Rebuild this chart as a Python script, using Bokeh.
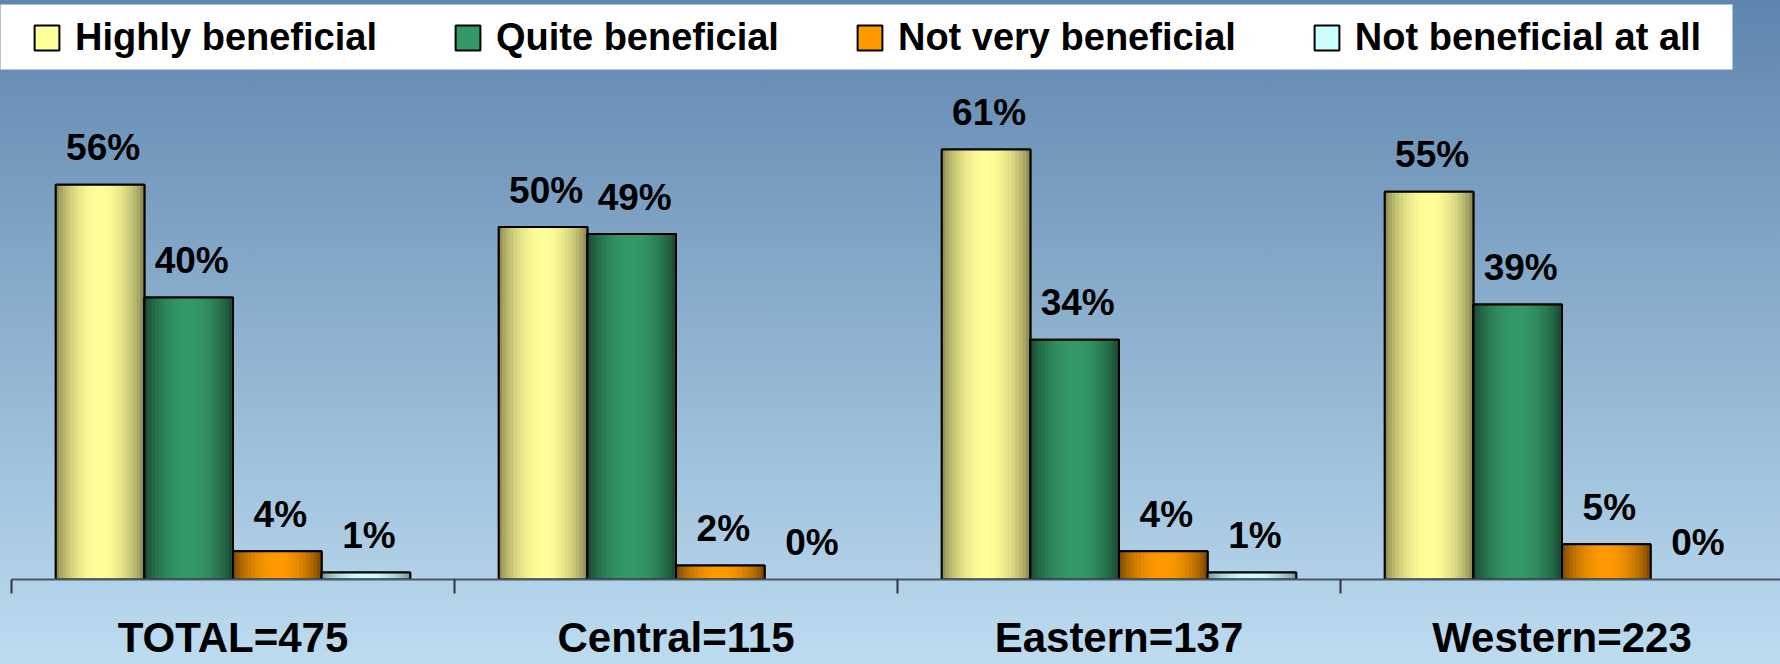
import math
from bokeh.plotting import figure
from bokeh.models import (ColumnDataSource, Range1d, FixedTicker, LinearAxis,
                          Legend, LegendItem, BoxAnnotation)
from bokeh.core.properties import value
from bokeh.embed import file_html
from bokeh.resources import INLINE

# ---------------- data ----------------
categories = ["TOTAL=475", "Central=115", "Eastern=137", "Western=223"]
series_names = ["Highly beneficial", "Quite beneficial",
                "Not very beneficial", "Not beneficial at all"]
highly_beneficial = [56, 50, 61, 55]
quite_beneficial = [40, 49, 34, 39]
not_very_beneficial = [4, 2, 4, 5]
not_beneficial_at_all = [1, 0, 1, 0]
series_values = [highly_beneficial, quite_beneficial,
                 not_very_beneficial, not_beneficial_at_all]

# ---------------- style ----------------
center_colors = [(255, 255, 153), (51, 153, 102), (255, 153, 0), (204, 255, 255)]
edge_colors = [(128, 124, 72), (24, 64, 44), (110, 64, 0), (110, 140, 140)]
W, H = 1780, 664
X0_PX, CAT_PX = 11, 443          # pixel of first category boundary, pixels per category
BASE_PX, PCT_PX = 579, 7.05      # pixel of the value axis zero, pixels per percent
BAR_W = 0.2
OFFSETS = [-0.3, -0.1, 0.1, 0.3]
N_STRIPS = 24
FONT_NAME = "Liberation Sans"
FONT = value(FONT_NAME)


def hexc(c):
    return "#%02x%02x%02x" % tuple(int(round(v)) for v in c)


def shade(edge, center, t):
    f = math.sin(math.pi * t) ** 0.7
    return hexc([e + (c - e) * f for e, c in zip(edge, center)])


p = figure(width=W, height=H, output_backend="svg", toolbar_location=None,
           x_range=Range1d(-X0_PX / CAT_PX, (W - X0_PX) / CAT_PX),
           y_range=Range1d(0, BASE_PX / PCT_PX),
           min_border_left=0, min_border_right=0, min_border_top=0,
           min_border_bottom=H - BASE_PX,
           x_axis_location=None, y_axis_location=None)
p.xgrid.visible = False
p.ygrid.visible = False
p.outline_line_color = None
p.background_fill_alpha = 0
p.border_fill_alpha = 0
p.styles = {"background": "linear-gradient(to bottom, #5e85ae 0%, #bddcf0 100%)"}

# white band behind the legend
p.add_layout(BoxAnnotation(left=-1, right=(1732 - X0_PX) / CAT_PX,
                           top=(BASE_PX - 4) / PCT_PX, bottom=(BASE_PX - 69) / PCT_PX,
                           fill_color="white", fill_alpha=1, line_alpha=0,
                           level="underlay"))

legend_items = []
for s, (name, vals) in enumerate(zip(series_names, series_values)):
    xs = [i + 0.5 + OFFSETS[s] for i in range(len(categories))]
    base = ColumnDataSource(dict(x=xs, top=vals,
                                 la=[1 if v > 0 else 0 for v in vals],
                                 lab=[f"{v}%" for v in vals]))
    r = p.vbar(x="x", top="top", width=BAR_W, source=base,
               fill_color=hexc(center_colors[s]), line_color="black",
               line_width=2, line_alpha="la")
    legend_items.append(LegendItem(label=name, renderers=[r]))
    # cylinder-like shading strips
    sx, st, sc = [], [], []
    for i, v in enumerate(vals):
        for k in range(N_STRIPS):
            t = (k + 0.5) / N_STRIPS
            sx.append(xs[i] - BAR_W / 2 + t * BAR_W)
            st.append(v)
            sc.append(shade(edge_colors[s], center_colors[s], t))
    p.vbar(x="x", top="top", width=BAR_W / N_STRIPS * 1.2,
           source=ColumnDataSource(dict(x=sx, top=st, c=sc)),
           fill_color="c", line_color=None)
    p.vbar(x="x", top="top", width=BAR_W, source=base, fill_color=None,
           line_color="black", line_width=2, line_alpha="la")
    p.text(x="x", y="top", text="lab", source=base, text_align="center",
           text_baseline="alphabetic", x_offset=3, y_offset=-37,
           text_font=FONT, text_font_style="bold", text_font_size="37px",
           text_color="black")

xaxis = LinearAxis(
    ticker=FixedTicker(ticks=[i + 0.5 for i in range(len(categories))],
                       minor_ticks=list(range(len(categories) + 1))),
    major_label_overrides={i + 0.5: c for i, c in enumerate(categories)},
    bounds=(0, len(categories)),
    axis_line_color="#4a5666", axis_line_width=2,
    major_tick_out=0, major_tick_in=0,
    minor_tick_out=14, minor_tick_in=0,
    minor_tick_line_color="#2a3440", minor_tick_line_width=2,
    major_label_standoff=20,
    major_label_text_font=FONT_NAME, major_label_text_font_style="bold",
    major_label_text_font_size="42px", major_label_text_color="black")
p.add_layout(xaxis, "below")

legend = Legend(items=legend_items, orientation="horizontal",
                location=(31, BASE_PX - 17 - 38 - 4), margin=0, padding=0,
                spacing=75, label_standoff=13,
                glyph_width=31, glyph_height=31,
                label_text_font=FONT_NAME, label_text_font_style="bold",
                label_text_font_size="38px", label_text_color="black",
                background_fill_alpha=0, border_line_alpha=0)
p.add_layout(legend)

open("out.html", "w").write(file_html(p, INLINE))
